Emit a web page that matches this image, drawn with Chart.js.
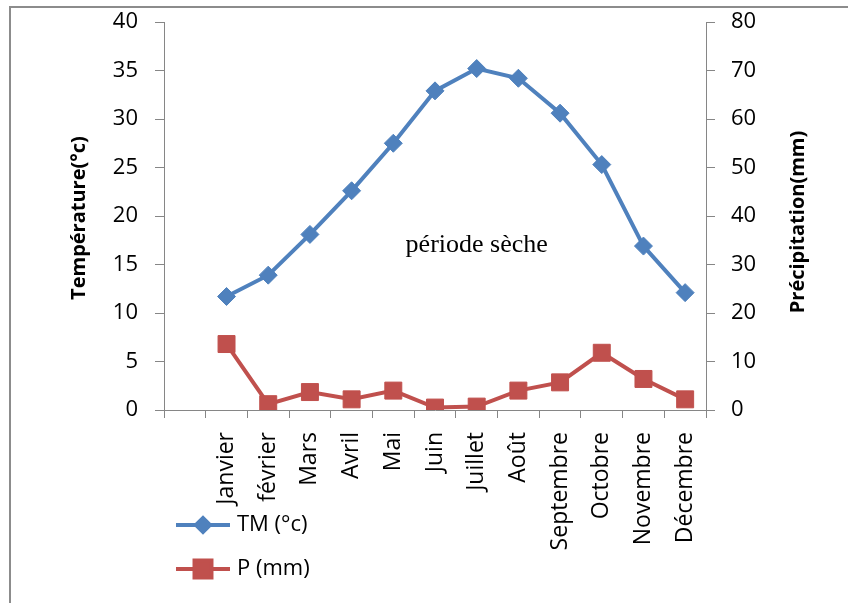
<!DOCTYPE html>
<html>
<head>
<meta charset="utf-8">
<script src="https://cdn.jsdelivr.net/npm/chart.js"></script>
<style>
  body { margin: 0; background: #fff; }
  canvas { display: block; }
</style>
</head>
<body>
<canvas id="chart" width="848" height="603"></canvas>
<script>
// monthly data
const months = ['Janvier', 'février', 'Mars', 'Avril', 'Mai', 'Juin', 'Juillet', 'Août', 'Septembre', 'Octobre', 'Novembre', 'Décembre'];
const tempValues = [11.7, 13.9, 18.1, 22.6, 27.5, 32.9, 35.2, 34.2, 30.6, 25.3, 16.9, 12.1];
const rainValues = [13.6, 1.2, 3.7, 2.2, 4.0, 0.5, 0.7, 4.0, 5.7, 11.8, 6.4, 2.2];
const tempTicks = [0, 5, 10, 15, 20, 25, 30, 35, 40];
const rainTicks = [0, 10, 20, 30, 40, 50, 60, 70, 80];

const blue = '#4F81BD';
const red = '#C0504D';
const axisGrey = '#868686';
const font = 'Open Sans';

// first category is left empty, like in the original sheet
const labels = [''].concat(months);

const decorations = {
  id: 'decorations',
  beforeDraw(chart) {
    const ctx = chart.ctx;
    ctx.save();
    ctx.strokeStyle = '#8c8c8c';
    ctx.lineWidth = 2;
    ctx.beginPath();
    ctx.moveTo(10, 603);
    ctx.lineTo(10, 7);
    ctx.lineTo(848, 7);
    ctx.stroke();
    ctx.restore();
  },
  afterDraw(chart) {
    const ctx = chart.ctx;
    const x = chart.scales.x, y = chart.scales.y;
    ctx.save();
    ctx.fillStyle = '#000';
    // axis titles, both reading bottom to top
    ctx.font = 'bold 20px "' + font + '"';
    ctx.textAlign = 'center';
    ctx.textBaseline = 'middle';
    [['Température(°c)', 79, 218], ['Précipitation(mm)', 798, 222]].forEach(t => {
      ctx.save();
      ctx.translate(t[1], t[2]);
      ctx.rotate(-Math.PI / 2);
      ctx.fillText(t[0], 0, 0);
      ctx.restore();
    });
    // annotation
    ctx.font = '26px "Liberation Serif"';
    ctx.fillText('période sèche', x.getPixelForValue(7), y.getPixelForValue(17));
    // legend
    const rows = [525, 569];
    chart.data.datasets.forEach((ds, i) => {
      const ly = rows[i];
      ctx.strokeStyle = ds.borderColor;
      ctx.lineWidth = 4;
      ctx.beginPath();
      ctx.moveTo(176, ly);
      ctx.lineTo(230, ly);
      ctx.stroke();
      ctx.fillStyle = ds.backgroundColor;
      Chart.helpers.drawPoint(ctx, {
        pointStyle: ds.pointStyle,
        radius: i === 0 ? 7 : 12,
        borderWidth: 1
      }, 203, ly);
      ctx.fillStyle = '#000';
      ctx.font = '22px "' + font + '"';
      ctx.textAlign = 'left';
      ctx.fillText(ds.label, 237, ly);
    });
    ctx.restore();
  }
};

new Chart(document.getElementById('chart'), {
  type: 'line',
  data: {
    labels: labels,
    datasets: [{
      label: 'TM (°c)',
      data: [null].concat(tempValues),
      yAxisID: 'y',
      borderColor: blue,
      backgroundColor: blue,
      borderWidth: 4,
      pointStyle: 'rectRot',
      pointRadius: 9,
      pointBorderWidth: 1,
      tension: 0
    }, {
      label: 'P (mm)',
      data: [null].concat(rainValues),
      yAxisID: 'y1',
      borderColor: red,
      backgroundColor: red,
      borderWidth: 4,
      pointStyle: 'rect',
      pointRadius: 12,
      pointBorderWidth: 1,
      tension: 0
    }]
  },
  options: {
    responsive: false,
    animation: false,
    devicePixelRatio: 1,
    layout: { padding: { top: 22, left: 0, right: 0, bottom: 0 } },
    plugins: {
      legend: { display: false },
      tooltip: { enabled: false }
    },
    scales: {
      x: {
        offset: true,
        grid: { offset: true, drawOnChartArea: false, tickLength: 8, color: axisGrey },
        border: { color: axisGrey },
        ticks: {
          autoSkip: false, minRotation: 90, maxRotation: 90, padding: 14,
          color: '#000', font: { family: font, size: 23 }
        },
        afterFit(s) { s.height = 193; }
      },
      y: {
        position: 'left',
        min: 0, max: 40,
        afterBuildTicks(s) { s.ticks = tempTicks.map(v => ({ value: v })); },
        grid: { drawOnChartArea: false, tickLength: 9, color: axisGrey },
        border: { color: axisGrey },
        ticks: { padding: 17, color: '#000', font: { family: font, size: 22 } },
        afterFit(s) { s.width = 164; s.paddingTop = 0; s.paddingBottom = 0; }
      },
      y1: {
        position: 'right',
        min: 0, max: 80,
        afterBuildTicks(s) { s.ticks = rainTicks.map(v => ({ value: v })); },
        grid: { drawOnChartArea: false, tickLength: 9, color: axisGrey },
        border: { color: axisGrey },
        ticks: { padding: 16, color: '#000', font: { family: font, size: 22 } },
        afterFit(s) { s.width = 142; s.paddingTop = 0; s.paddingBottom = 0; }
      }
    }
  },
  plugins: [decorations]
});
</script>
</body>
</html>
